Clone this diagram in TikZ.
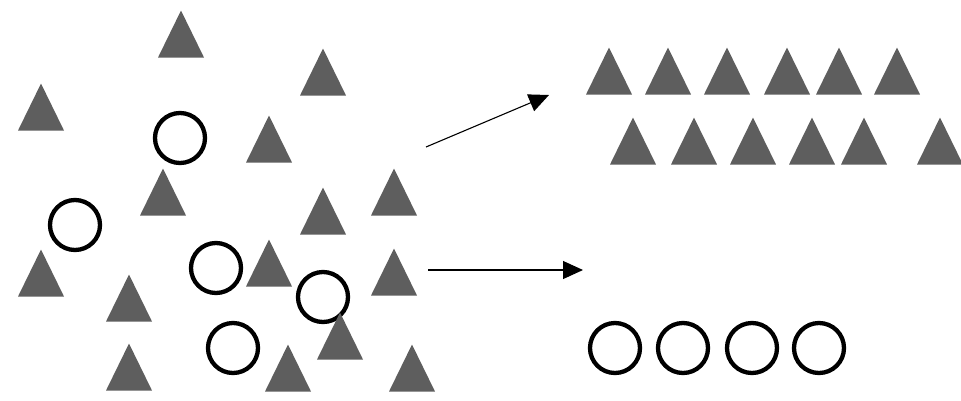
\documentclass[tikz,border=0pt]{standalone}
\usepackage{tikz}
\usetikzlibrary{shapes,arrows.meta}
\definecolor{gris}{HTML}{5E5E5E}

\begin{document}
\begin{tikzpicture}[x=1pt, y=-1pt,
    tri/.style={isosceles triangle, isosceles triangle stretches, shape border rotate=90,
        fill=gris, inner sep=0pt, minimum width=46pt, minimum height=47pt, anchor=apex},
    circ/.style={circle, draw, line width=4.3pt, inner sep=0pt, minimum size=50pt},
    flecha/.style={-{Triangle[length=20pt,width=18pt]}, line width=1.1pt}]
    \fill[white] (0,0) rectangle (961,400);
    \useasboundingbox (0,0) rectangle (961,400);

    % Círculos mezclados
    \node[circ] (c1) at (180,138) {};
    \node[circ] (c2) at (75,225) {};
    \node[circ] (c3) at (216,268) {};
    \node[circ] (c4) at (323,297) {};
    \node[circ] (c5) at (233,348) {};

    % Triángulos mezclados
    \node[tri] (t1) at (181,10) {};
    \node[tri] (t2) at (323,48) {};
    \node[tri] (t3) at (41,83) {};
    \node[tri] (t4) at (269,115) {};
    \node[tri] (t5) at (163,168) {};
    \node[tri] (t6) at (323,187) {};
    \node[tri] (t7) at (394,168) {};
    \node[tri] (t8) at (41,249) {};
    \node[tri] (t9) at (269,239) {};
    \node[tri] (t10) at (394,248) {};
    \node[tri] (t11) at (129,274) {};
    \node[tri] (t12) at (340,312) {};
    \node[tri] (t13) at (129,343) {};
    \node[tri] (t14) at (288,344) {};
    \node[tri] (t15) at (412,344) {};

    % Triángulos separados
    \node[tri] (s1) at (609,47) {};
    \node[tri] (s2) at (668,47) {};
    \node[tri] (s3) at (727,47) {};
    \node[tri] (s4) at (787,47) {};
    \node[tri] (s5) at (839,47) {};
    \node[tri] (s6) at (897,47) {};
    \node[tri] (s7) at (633,117) {};
    \node[tri] (s8) at (694,117) {};
    \node[tri] (s9) at (753,117) {};
    \node[tri] (s10) at (812,117) {};
    \node[tri] (s11) at (864,117) {};
    \node[tri] (s12) at (940,117) {};

    % Círculos separados
    \node[circ] (r1) at (615,348) {};
    \node[circ] (r2) at (683,348) {};
    \node[circ] (r3) at (752,348) {};
    \node[circ] (r4) at (819,348) {};

    % Flechas
    \coordinate (a1) at (426,147);
    \coordinate (b1) at (549,95);
    \coordinate (a2) at (428,270);
    \coordinate (b2) at (583,270);
    \draw[flecha] (a1) -- (b1);
    \draw[flecha] (a2) -- (b2);
\end{tikzpicture}
\end{document}
